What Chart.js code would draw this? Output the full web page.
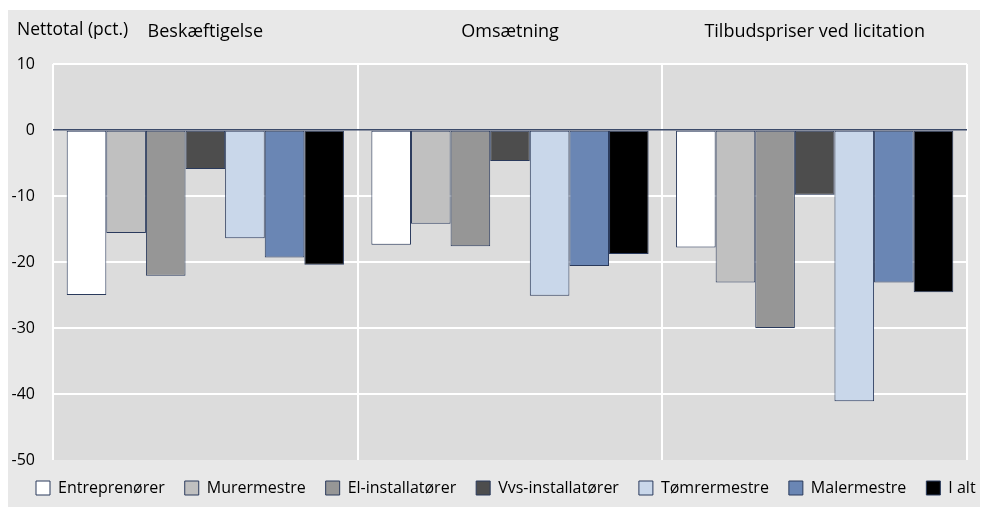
<!DOCTYPE html>
<html><head><meta charset="utf-8">
<script src="https://cdn.jsdelivr.net/npm/chart.js@4.4.0/dist/chart.umd.min.js"></script>
<style>html,body{margin:0;padding:0;background:#fff;}</style>
</head><body>
<canvas id="c" width="984" height="508" style="display:block"></canvas>
<script>
const categories = ['Beskæftigelse', 'Omsætning', 'Tilbudspriser ved licitation'];
const seriesNames = ['Entreprenører', 'Murermestre', 'El-installatører', 'Vvs-installatører', 'Tømrermestre', 'Malermestre', 'I alt'];
const entreprenorer = [-25.0, -17.4, -17.8];
const murermestre = [-15.6, -14.2, -23.1];
const elinstallatorer = [-22.1, -17.6, -30.0];
const vvsinstallatorer = [-5.9, -4.7, -9.8];
const tomrermestre = [-16.4, -25.1, -41.1];
const malermestre = [-19.3, -20.6, -23.1];
const ialt = [-20.4, -18.8, -24.6];
const yTicks = [10, 0, -10, -20, -30, -40, -50];
const yTitle = 'Nettotal (pct.)';

const colors = ['#ffffff', '#c0c0c0', '#969696', '#4d4d4d', '#c9d7ea', '#6a86b4', '#000000'];
const seriesValues = [entreprenorer, murermestre, elinstallatorer, vvsinstallatorer, tomrermestre, malermestre, ialt];
const FONT = "'Open Sans', sans-serif";

const bgPlugin = {
  id: 'bg',
  afterLayout(chart) {
    if (chart.legend) { chart.legend.left = 16; chart.legend.right = 2000; }
  },
  beforeDraw(chart) {
    const ctx = chart.ctx, a = chart.chartArea;
    ctx.save();
    ctx.fillStyle = '#e8e8e8';
    ctx.fillRect(8, 10, 972, 497);
    ctx.fillStyle = '#dcdcdc';
    ctx.fillRect(a.left, a.top, a.right - a.left, a.bottom - a.top);
    ctx.restore();
  },
  afterDraw(chart) {
    const ctx = chart.ctx;
    ctx.save();
    ctx.fillStyle = '#000';
    ctx.font = "17.5px " + FONT;
    ctx.textAlign = 'left';
    ctx.textBaseline = 'alphabetic';
    ctx.fillText(yTitle, 17, 35);
    ctx.restore();
  }
};

new Chart(document.getElementById('c'), {
  type: 'bar',
  data: {
    labels: categories,
    datasets: seriesNames.map((n, i) => ({
      label: n,
      data: seriesValues[i],
      backgroundColor: colors[i],
      borderColor: '#2a3a5c',
      borderWidth: 1,
      borderSkipped: false,
      categoryPercentage: 0.91,
      barPercentage: 1.0
    }))
  },
  options: {
    responsive: false,
    animation: false,
    devicePixelRatio: 1,
    layout: { padding: { left: 0, right: 0, top: 0, bottom: 2 } },
    plugins: {
      tooltip: { enabled: false },
      legend: {
        position: 'bottom',
        align: 'start',
        labels: {
          boxWidth: 14, boxHeight: 14, padding: 20,
          color: '#000',
          font: { family: FONT, size: 16 }
        }
      }
    },
    scales: {
      x: {
        position: 'top',
        grid: { display: true, offset: true, color: '#ffffff', lineWidth: 2, drawTicks: false },
        border: { display: false },
        ticks: { color: '#000', font: { family: FONT, size: 18 }, padding: 21, maxRotation: 0 },
        afterFit(s) { s.height = 64; }
      },
      y: {
        min: -50, max: 10,
        afterBuildTicks(s) { s.ticks = yTicks.map(v => ({ value: v })); },
        grid: {
          drawTicks: false,
          color: c => c.tick && c.tick.value === 0 ? '#3c4b6a' : (c.tick && c.tick.value === -50 ? 'rgba(0,0,0,0)' : '#ffffff'),
          lineWidth: c => c.tick && c.tick.value === 0 ? 1.5 : 2
        },
        border: { display: false },
        ticks: { color: '#000', font: { family: FONT, size: 16 }, padding: 18 },
        afterFit(s) { s.width = 53; }
      },
      yRight: {
        type: 'linear',
        position: 'right',
        display: true,
        grid: { display: false },
        border: { display: false },
        ticks: { display: false },
        afterFit(s) { s.width = 17; }
      }
    }
  },
  plugins: [bgPlugin]
});
</script>
</body></html>
